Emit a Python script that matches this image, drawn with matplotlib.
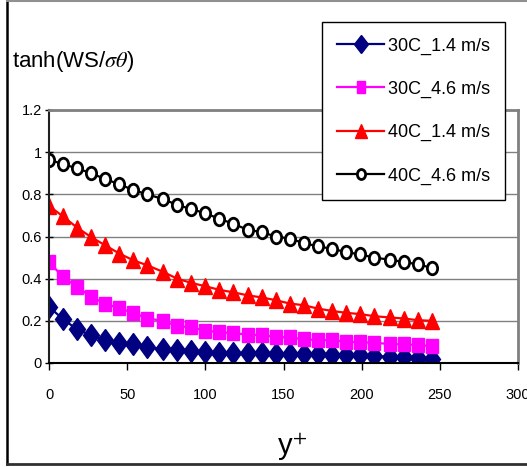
import numpy as np
import matplotlib
matplotlib.use("Agg")
import matplotlib.pyplot as plt
from matplotlib.lines import Line2D
from matplotlib.markers import MarkerStyle
from matplotlib.transforms import Affine2D

# y+ positions (same for every series)
y_plus = [0, 9, 18, 27, 36, 45, 54, 63, 73, 82, 91, 100, 109, 118,
          127, 136, 145, 154, 163, 172, 181, 190, 199, 208, 218, 227, 236, 245]

c30_14 = [0.266, 0.208, 0.159, 0.132, 0.109, 0.096, 0.090, 0.074, 0.065, 0.061,
          0.057, 0.053, 0.049, 0.047, 0.047, 0.046, 0.045, 0.043, 0.043, 0.041,
          0.038, 0.038, 0.038, 0.033, 0.030, 0.027, 0.022, 0.017]
c30_46 = [0.479, 0.408, 0.361, 0.313, 0.282, 0.259, 0.238, 0.211, 0.200, 0.175,
          0.169, 0.153, 0.146, 0.141, 0.135, 0.132, 0.124, 0.121, 0.112, 0.109,
          0.108, 0.101, 0.098, 0.096, 0.090, 0.088, 0.086, 0.079]
c40_14 = [0.745, 0.695, 0.642, 0.597, 0.558, 0.519, 0.487, 0.463, 0.432, 0.400,
          0.380, 0.364, 0.347, 0.335, 0.321, 0.311, 0.298, 0.282, 0.274, 0.258,
          0.247, 0.238, 0.232, 0.222, 0.216, 0.211, 0.203, 0.200]
c40_46 = [0.965, 0.943, 0.923, 0.900, 0.872, 0.848, 0.820, 0.800, 0.777, 0.750,
          0.730, 0.710, 0.684, 0.660, 0.632, 0.621, 0.600, 0.590, 0.569, 0.553,
          0.542, 0.526, 0.515, 0.500, 0.490, 0.479, 0.468, 0.451]

labels = ['30C_1.4 m/s', '30C_4.6 m/s', '40C_1.4 m/s', '40C_4.6 m/s']

plt.rcParams['font.family'] = ['Liberation Sans', 'DejaVu Sans']
plt.rcParams['mathtext.fontset'] = 'stix'

def tall(m, sx=0.8):
    # excel markers come out a bit taller than wide
    return MarkerStyle(m, transform=Affine2D().scale(sx, 1.0))

W, H = 527, 467
fig = plt.figure(figsize=(W / 100, H / 100), dpi=100)
ax = fig.add_axes([49 / W, 1 - 363 / H, (518 - 49) / W, (363 - 110) / H])

ax.plot(y_plus, c30_14, color='#000080', lw=1.6, marker=tall('D', 0.78), ms=11, label=labels[0])
ax.plot(y_plus, c30_46, color='#FF00FF', lw=1.6, marker=tall('s', 0.8), ms=10, label=labels[1])
ax.plot(y_plus, c40_14, color='#FF0000', lw=1.6, marker=tall('^', 0.85), ms=12, label=labels[2])
ax.plot(y_plus, c40_46, color='black', lw=1.6, marker=tall('o', 0.82), ms=9,
        mfc='white', mew=2, label=labels[3])

ax.set_xlim(0, 300)
ax.set_ylim(0, 1.2)
ax.set_xticks(np.arange(0, 301, 50))
ax.set_yticks(np.arange(0, 1.21, 0.2))
ax.set_yticklabels(['0', '0.2', '0.4', '0.6', '0.8', '1', '1.2'])
ax.yaxis.grid(True, color='#808080', lw=1)
ax.set_axisbelow(True)

ax.tick_params(axis='x', direction='out', length=5, width=1, pad=13, labelsize=10.5)
ax.tick_params(axis='y', direction='inout', length=6, width=1, pad=2, labelsize=10.5)

for s in ['top', 'right']:
    ax.spines[s].set_color('#808080')
    ax.spines[s].set_linewidth(2)
ax.spines['left'].set_color('#202020')
ax.spines['left'].set_linewidth(1.5)
ax.spines['bottom'].set_color('black')
ax.spines['bottom'].set_linewidth(1.5)

leg = fig.legend(loc='upper left', bbox_to_anchor=(322 / W, 1 - 22 / H), fontsize=13,
                 frameon=True, fancybox=False, edgecolor='black', framealpha=1,
                 handlelength=2.6, handletextpad=0.2, labelspacing=1.45,
                 borderpad=0.85, borderaxespad=0, markerscale=0.8)
leg.get_frame().set_linewidth(1)

fig.text(12 / W, 1 - 62 / H, r'tanh(WS/$\sigma\theta$)', fontsize=16,
         ha='left', va='center')
fig.text(292 / W, 1 - 448 / H, r'y$^{\mathsf{+}}$', fontsize=21, ha='center', va='center')

# outer chart border
fig.add_artist(Line2D([7 / W, 7 / W], [1 - 1 / H, 1 - 464 / H], color='black', lw=1.8,
                      transform=fig.transFigure))
fig.add_artist(Line2D([7 / W, 1], [1 - 464 / H, 1 - 464 / H], color='#303030', lw=2,
                      transform=fig.transFigure))
fig.add_artist(Line2D([7 / W, 1], [1 - 1 / H, 1 - 1 / H], color='#909090', lw=1.5,
                      transform=fig.transFigure))

fig.savefig('out.png', dpi=100)
